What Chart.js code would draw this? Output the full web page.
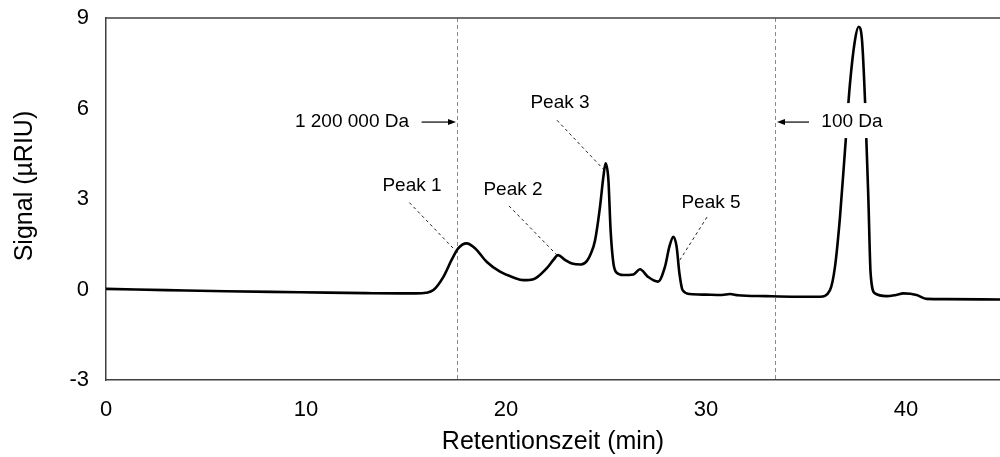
<!DOCTYPE html>
<html>
<head>
<meta charset="utf-8">
<script src="https://cdn.jsdelivr.net/npm/chart.js@4/dist/chart.umd.min.js"></script>
<style>
html, body { margin: 0; padding: 0; background: #fff; overflow: hidden; }
#wrap { width: 1000px; height: 457px; }
</style>
</head>
<body>
<div id="wrap"><canvas id="chromChart" width="1000" height="457"></canvas></div>
<script>
// Retention time (min) and RI signal (µRIU)
const retentionTime = [
    0, 1.5, 3, 6, 9.7, 13, 14.7, 15.5, 16.0, 16.37, 16.87, 17.28, 17.62, 18.03, 18.45,
    19.03, 19.7, 20.37, 20.87, 21.37, 22.03, 22.37, 22.6, 22.95, 23.3, 23.75, 24.05, 24.25,
    24.45, 24.7, 24.87, 24.98, 25.12, 25.23, 25.37, 25.53, 25.87, 26.37, 26.7, 27.1,
    27.6, 27.95, 28.17, 28.37, 28.53, 28.67, 28.83, 29.2, 30.0, 30.8, 31.2, 31.6, 33.0,
    34.5, 35.7, 36.2, 36.45, 36.7, 36.95, 37.2, 37.45, 37.63, 37.8, 37.95, 38.12, 38.23,
    38.45, 39.03, 39.5, 39.87, 40.53, 41.03, 42.0, 44.7
];
const signal = [
    0.02, 0.0, -0.02, -0.06, -0.09, -0.12, -0.13, -0.13, -0.11, -0.02, 0.42, 0.98, 1.37, 1.53, 1.37,
    0.92, 0.59, 0.40, 0.31, 0.34, 0.70, 0.98, 1.14, 0.98, 0.86, 0.83, 0.95, 1.2,
    1.62, 2.74, 3.74, 4.18, 3.63, 1.97, 0.87, 0.56, 0.48, 0.50, 0.67, 0.42,
    0.26, 0.76, 1.42, 1.75, 1.42, 0.54, -0.02, -0.15, -0.17, -0.18, -0.15, -0.19, -0.22,
    -0.24, -0.24, -0.02, 0.76, 2.41, 4.62, 6.83, 8.27, 8.71, 8.27, 6.28, 2.97, 0.54,
    -0.13, -0.22, -0.18, -0.13, -0.18, -0.31, -0.32, -0.33
];
const xTicks = [0, 10, 20, 30, 40];
const yTicks = [-3, 0, 3, 6, 9];
const yTitle = 'Signal (µRIU)';

// Molar mass limits (dashed verticals) and their arrow labels
const markerTimes = [17.55, 33.45];
const markerLabels = ['1 200 000 Da', '100 Da'];
const markerLabelX = [12.3, 37.3];
const markerArrowFrom = [15.78, 35.15];
const markerLabelY = 5.55;

// Peak labels with dashed leader lines (label centre, then leader start and end)
const peakNames = ['Peak 1', 'Peak 2', 'Peak 3', 'Peak 5'];
const peakLabelX = [15.3, 20.35, 22.7, 30.25];
const peakLabelY = [3.43, 3.30, 6.18, 2.87];
const leaderFrom = [[15.17, 2.88], [20.15, 2.77], [22.55, 5.61], [30.05, 2.4]];
const leaderTo = [[17.53, 1.25], [22.55, 1.14], [24.85, 4.0], [28.6, 0.88]];

const FONT = "'Liberation Sans', Arial, sans-serif";

// Draw markers, labels, arrows, the top frame line and the y title
const annotate = {
    id: 'annotate',
    beforeDatasetsDraw(chart) {
        const { ctx, chartArea, scales } = chart;
        ctx.save();
        ctx.strokeStyle = '#8a8a8a';
        ctx.lineWidth = 1;
        ctx.setLineDash([4, 3]);
        markerTimes.forEach(t => {
            const px = Math.round(scales.x.getPixelForValue(t)) + 0.5;
            ctx.beginPath();
            ctx.moveTo(px, chartArea.top);
            ctx.lineTo(px, chartArea.bottom);
            ctx.stroke();
        });
        ctx.restore();
    },
    afterDatasetsDraw(chart) {
        const { ctx, chartArea, scales } = chart;
        const xs = scales.x, ys = scales.y;
        ctx.save();

        // top frame
        ctx.strokeStyle = '#404040';
        ctx.lineWidth = 1.5;
        ctx.beginPath();
        ctx.moveTo(chartArea.left, chartArea.top);
        ctx.lineTo(chartArea.right, chartArea.top);
        ctx.stroke();

        ctx.font = '19px ' + FONT;
        ctx.textAlign = 'center';
        ctx.textBaseline = 'middle';

        // marker labels with arrows
        markerLabels.forEach((label, i) => {
            const cx = xs.getPixelForValue(markerLabelX[i]);
            const cy = ys.getPixelForValue(markerLabelY);
            const w = ctx.measureText(label).width;
            ctx.fillStyle = '#fff';
            ctx.fillRect(cx - w / 2 - 4, cy - 19, w + 8, 35);
            ctx.fillStyle = '#000';
            ctx.fillText(label, cx, cy);

            const x1 = xs.getPixelForValue(markerArrowFrom[i]);
            const x2 = xs.getPixelForValue(markerTimes[i]) + (x1 < xs.getPixelForValue(markerTimes[i]) ? -1 : 2);
            const dir = x2 > x1 ? 1 : -1;
            ctx.strokeStyle = '#000';
            ctx.lineWidth = 1.2;
            ctx.setLineDash([]);
            ctx.beginPath();
            ctx.moveTo(x1, cy);
            ctx.lineTo(x2 - dir * 6, cy);
            ctx.stroke();
            ctx.beginPath();
            ctx.moveTo(x2, cy);
            ctx.lineTo(x2 - dir * 8, cy - 3);
            ctx.lineTo(x2 - dir * 8, cy + 3);
            ctx.closePath();
            ctx.fill();
        });

        // peak labels and dashed leaders
        peakNames.forEach((name, i) => {
            ctx.fillStyle = '#000';
            ctx.fillText(name, xs.getPixelForValue(peakLabelX[i]), ys.getPixelForValue(peakLabelY[i]));
            ctx.strokeStyle = '#222';
            ctx.lineWidth = 1;
            ctx.setLineDash([3, 3]);
            ctx.beginPath();
            ctx.moveTo(xs.getPixelForValue(leaderFrom[i][0]), ys.getPixelForValue(leaderFrom[i][1]));
            ctx.lineTo(xs.getPixelForValue(leaderTo[i][0]), ys.getPixelForValue(leaderTo[i][1]));
            ctx.stroke();
        });

        // y axis title, centred a bit above the middle of the axis as in the original
        ctx.translate(25, ys.getPixelForValue(3.43));
        ctx.rotate(-Math.PI / 2);
        ctx.font = '25px ' + FONT;
        ctx.fillStyle = '#000';
        ctx.fillText(yTitle, 0, 0);
        ctx.restore();
    }
};

const ctx = document.getElementById('chromChart').getContext('2d');
new Chart(ctx, {
    type: 'line',
    data: {
        datasets: [{
            label: 'Signal',
            data: retentionTime.map((t, i) => ({ x: t, y: signal[i] })),
            borderColor: '#000',
            borderWidth: 2.6,
            pointRadius: 0,
            fill: false,
            cubicInterpolationMode: 'monotone'
        }]
    },
    options: {
        responsive: false,
        animation: false,
        layout: { padding: { top: 18, right: 0, bottom: 0, left: 0 } },
        plugins: {
            legend: { display: false },
            tooltip: { enabled: false }
        },
        scales: {
            x: {
                type: 'linear',
                min: 0,
                max: 44.7,
                afterBuildTicks: s => { s.ticks = xTicks.map(v => ({ value: v })); },
                afterFit: s => { s.height = 77; s.paddingLeft = 0; s.paddingRight = 0; },
                grid: { display: false, drawTicks: false },
                border: { display: true, color: '#404040', width: 1.5 },
                ticks: { color: '#000', padding: 17, font: { family: FONT, size: 22 } },
                title: {
                    display: true,
                    text: 'Retentionszeit (min)',
                    color: '#000',
                    padding: 0,
                    font: { family: FONT, size: 25 }
                }
            },
            y: {
                min: -3,
                max: 9,
                afterBuildTicks: s => { s.ticks = yTicks.map(v => ({ value: v })); },
                afterFit: s => { s.width = 106; s.paddingTop = 0; s.paddingBottom = 0; },
                grid: { display: false, drawTicks: false },
                border: { display: true, color: '#404040', width: 1.5 },
                ticks: { color: '#000', padding: 17, font: { family: FONT, size: 22 } },
                title: { display: false }
            }
        }
    },
    plugins: [annotate]
});
</script>
</body>
</html>
